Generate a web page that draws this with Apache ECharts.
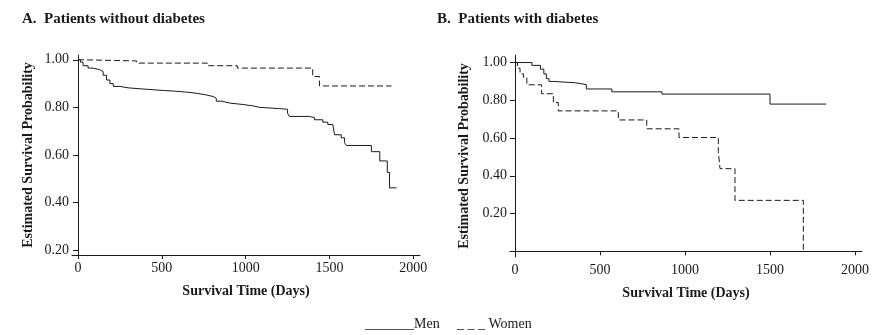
<!DOCTYPE html>
<html>
<head>
<meta charset="utf-8">
<script src="https://cdn.jsdelivr.net/npm/echarts@6/dist/echarts.min.js"></script>
<style>
  html, body { margin: 0; padding: 0; background: #fff; }
  #chart { width: 884px; height: 335px; }
</style>
</head>
<body>
<div id="chart"></div>
<script>
// tick labels
const xTicks = [0, 500, 1000, 1500, 2000];
const yTicksA = [0.2, 0.4, 0.6, 0.8, 1.0];
const yTicksB = [0.2, 0.4, 0.6, 0.8, 1.0];

// A. patients without diabetes: [days, survival]
const menA = [
  [0, 1.0], [15, 0.99], [30, 0.975], [60, 0.965], [90, 0.958], [130, 0.95],
  [150, 0.935], [170, 0.915], [190, 0.9], [210, 0.888], [250, 0.882], [300, 0.878],
  [370, 0.874], [450, 0.871], [510, 0.868], [580, 0.864], [650, 0.86], [700, 0.853],
  [760, 0.846], [805, 0.838], [825, 0.826], [860, 0.818], [905, 0.812], [985, 0.806],
  [1045, 0.8], [1085, 0.795], [1200, 0.792], [1250, 0.776], [1260, 0.762], [1380, 0.757],
  [1410, 0.748], [1460, 0.738], [1490, 0.728], [1520, 0.722], [1530, 0.685], [1570, 0.672],
  [1590, 0.652], [1600, 0.64], [1750, 0.614], [1800, 0.575], [1845, 0.527], [1858, 0.462],
  [1900, 0.462]
];
const womenA = [
  [0, 1.0], [20, 0.995], [350, 0.986], [770, 0.975], [950, 0.965], [1400, 0.93],
  [1440, 0.89], [1870, 0.89]
];

// B. patients with diabetes
const menB = [
  [0, 1.0], [100, 0.985], [150, 0.965], [170, 0.94], [185, 0.915], [200, 0.9],
  [225, 0.893], [355, 0.883], [420, 0.86], [570, 0.845], [865, 0.833], [1500, 0.78],
  [1830, 0.78]
];
const womenB = [
  [0, 1.0], [15, 0.97], [30, 0.94], [50, 0.922], [70, 0.882], [157, 0.835],
  [226, 0.788], [255, 0.744], [608, 0.696], [775, 0.649], [965, 0.603], [1196, 0.53],
  [1206, 0.438], [1294, 0.27], [1696, 0.27], [1696, 0]
];

const serif = '"Liberation Serif", "DejaVu Serif", serif';
const ink = '#1a1a1a';

function xAxisOf(idx, min, max) {
  return {
    type: 'value', gridIndex: idx, min: min, max: max,
    name: 'Survival Time (Days)', nameLocation: 'middle', nameGap: 29,
    nameTextStyle: { fontFamily: serif, fontWeight: 'bold', fontSize: 14, color: ink },
    axisLine: { lineStyle: { color: ink, width: 1 } },
    axisTick: { show: true, length: 4, customValues: xTicks, lineStyle: { color: ink } },
    axisLabel: {
      customValues: xTicks, fontFamily: serif, fontSize: 14, color: ink, margin: 6,
      formatter: v => String(v)
    },
    splitLine: { show: false }
  };
}
function yAxisOf(idx, min, max, ticks, gap) {
  return {
    type: 'value', gridIndex: idx, min: min, max: max,
    name: 'Estimated Survival Probability', nameLocation: 'middle', nameGap: gap,
    nameTextStyle: { fontFamily: serif, fontWeight: 'bold', fontSize: 14, color: ink },
    axisLine: { show: true, lineStyle: { color: ink, width: 1 } },
    axisTick: { show: true, length: 5, customValues: ticks, lineStyle: { color: ink } },
    axisLabel: {
      customValues: ticks, fontFamily: serif, fontSize: 14, color: ink, margin: 3,
      formatter: v => v.toFixed(2)
    },
    splitLine: { show: false }
  };
}
function curve(name, data, idx, dashed) {
  return {
    name: name, type: 'line', step: 'end', data: data,
    xAxisIndex: idx, yAxisIndex: idx, symbol: 'none', silent: true,
    lineStyle: { color: ink, width: 1, type: dashed ? [6, 3] : 'solid' }
  };
}

const chart = echarts.init(document.getElementById('chart'), null, { renderer: 'canvas' });
chart.setOption({
  animation: false,
  backgroundColor: '#fff',
  title: [
    { text: 'A.  Patients without diabetes', left: 22, top: 12, padding: 0,
      textStyle: { fontFamily: serif, fontWeight: 'bold', fontSize: 15, color: ink } },
    { text: 'B.  Patients with diabetes', left: 437, top: 12, padding: 0,
      textStyle: { fontFamily: serif, fontWeight: 'bold', fontSize: 15, color: ink } }
  ],
  grid: [
    { left: 72, right: 464, top: 55, bottom: 80 },
    { left: 510, right: 22, top: 55, bottom: 78 }
  ],
  xAxis: [xAxisOf(0, -36, 2040), xAxisOf(1, -29, 2041)],
  yAxis: [yAxisOf(0, 0.18, 1.02, yTicksA, 37), yAxisOf(1, -0.03, 1.04, yTicksB, 39)],
  series: [
    curve('Men', menA, 0, false),
    curve('Women', womenA, 0, true),
    curve('Men', menB, 1, false),
    curve('Women', womenB, 1, true)
  ],
  graphic: [
    { type: 'text', left: 365, top: 317,
      style: { text: '_______Men', font: '14px ' + serif, fill: ink } },
    { type: 'text', left: 457, top: 317,
      style: { text: '_ _ _ Women', font: '14px ' + serif, fill: ink } }
  ]
});
</script>
</body>
</html>
